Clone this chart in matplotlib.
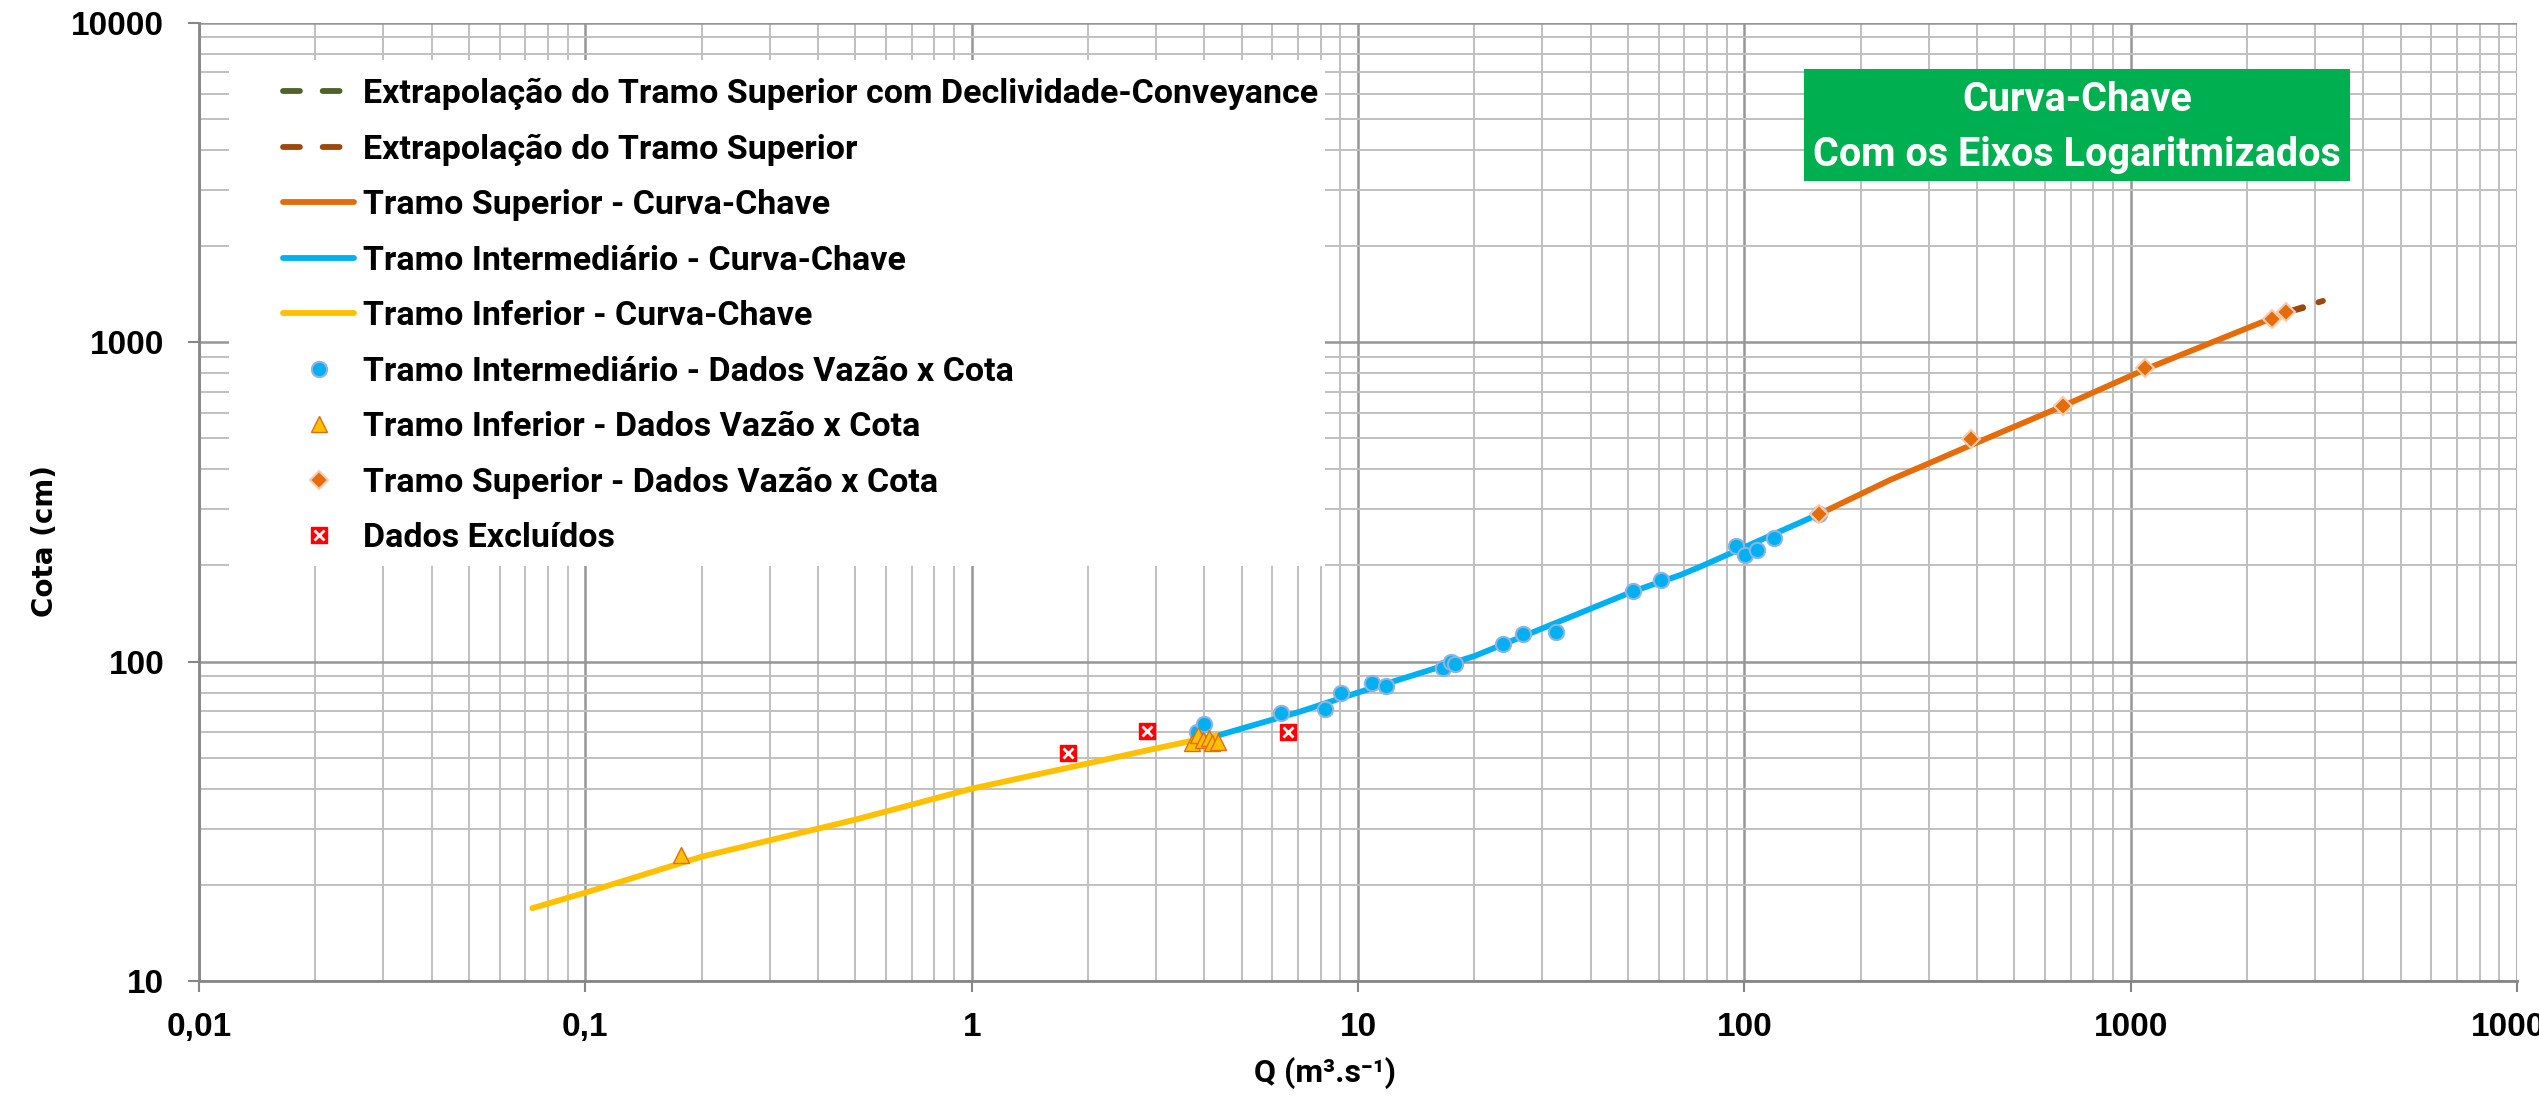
import matplotlib
matplotlib.use("Agg")
import matplotlib.pyplot as plt
from matplotlib.lines import Line2D
from matplotlib.patches import Rectangle
from matplotlib.ticker import FixedLocator, FixedFormatter, LogLocator, NullFormatter

# curva-chave: tramos (Q em m3/s, cota em cm)
q_inf_curva = [0.0729, 0.1, 0.2, 0.5, 1.0, 2.0, 2.9, 4.4]
h_inf_curva = [16.9, 18.9, 24.5, 32.0, 40.0, 48.0, 53.0, 59.0]

q_int_curva = [4.4, 7.08, 10, 20, 30, 51.6, 68.2, 76.8, 100, 155.6]
h_int_curva = [59.0, 69.7, 80, 104, 127, 166, 186.5, 198, 228, 289]

q_sup_curva = [155.6, 238, 300, 386, 670, 1086, 1343, 2526]
h_sup_curva = [289, 370, 417, 476, 632, 820, 910, 1239]

# extrapolacoes
q_extrap = [2526, 3145]
h_extrap = [1239, 1346]
q_extrap_dc = [2526, 2858]
h_extrap_dc = [1239, 1288]

# dados medidos
q_int_dados = [3.83, 4.00, 6.31, 8.22, 9.03, 10.9, 11.8, 16.6, 17.4, 17.8, 23.8, 26.8,
               32.6, 51.6, 60.9, 95.2, 100.1, 107.8, 119.0, 155.6]
h_int_dados = [60.3, 63.6, 68.9, 70.8, 79.8, 85.9, 83.8, 95.6, 99.9, 98.2, 113.5, 122.3,
               123.5, 166.4, 179.8, 230.3, 215.4, 223.3, 244.0, 289]

q_inf_dados = [0.177, 3.71, 3.86, 3.98, 4.12, 4.18, 4.35]
h_inf_dados = [24.8, 55.5, 58.9, 56.8, 57.5, 55.5, 56.1]

q_sup_dados = [155.6, 386, 670, 1086, 2320, 2526]
h_sup_dados = [289, 496, 630, 827, 1178, 1239]

q_excluidos = [1.78, 2.85, 6.57]
h_excluidos = [51.6, 60.6, 60.3]

x_ticks = [0.01, 0.1, 1, 10, 100, 1000, 10000]
x_tick_labels = ["0,01", "0,1", "1", "10", "100", "1000", "10000"]
y_ticks = [10, 100, 1000, 10000]
y_tick_labels = ["10", "100", "1000", "10000"]

NARROW = ["Roboto", "DejaVu Sans"]

plt.rcParams["font.family"] = ["Liberation Sans", "DejaVu Sans"]
plt.rcParams["font.weight"] = "bold"

W, H = 2539, 1099
fig = plt.figure(figsize=(W / 100, H / 100), dpi=100)
ax = fig.add_axes([199 / W, 1 - 981 / H, 2318 / W, 958.3 / H])
ax.set_xscale("log")
ax.set_yscale("log")
ax.set_xlim(0.01, 10000)
ax.set_ylim(10, 10000)
ax.set_axisbelow(True)

ax.xaxis.set_major_locator(FixedLocator(x_ticks))
ax.xaxis.set_major_formatter(FixedFormatter(x_tick_labels))
ax.yaxis.set_major_locator(FixedLocator(y_ticks))
ax.yaxis.set_major_formatter(FixedFormatter(y_tick_labels))
for axis in (ax.xaxis, ax.yaxis):
    axis.set_minor_locator(LogLocator(base=10, subs=range(2, 10), numticks=30))
    axis.set_minor_formatter(NullFormatter())

ax.grid(which="major", color="#969696", lw=1.8)
ax.grid(which="minor", color="#C0C0C0", lw=1.4)
ax.tick_params(which="major", length=8, width=1.5, color="#868686", labelsize=24)
ax.tick_params(axis="x", which="major", pad=14)
ax.tick_params(axis="y", which="major", pad=17)
ax.tick_params(which="minor", length=0)
for side in ("top", "right"):
    ax.spines[side].set_visible(False)
for side in ("left", "bottom"):
    ax.spines[side].set_color("#868686")
    ax.spines[side].set_linewidth(2)

# curvas
lw = 4.2
h_inf_c, = ax.plot(q_inf_curva, h_inf_curva, color="#FFC000", lw=lw,
                   solid_capstyle="round", zorder=3)
h_int_c, = ax.plot(q_int_curva, h_int_curva, color="#00B0F0", lw=lw,
                   solid_capstyle="round", zorder=3)
h_sup_c, = ax.plot(q_sup_curva, h_sup_curva, color="#E46C0A", lw=lw,
                   solid_capstyle="round", zorder=3)
ax.plot(q_extrap_dc, h_extrap_dc, color="#4F6228", lw=lw,
        dashes=(3.0, 2.8), dash_capstyle="round", zorder=3)
ax.plot(q_extrap, h_extrap, color="#9E480E", lw=lw,
        dashes=(3.0, 2.8), dash_capstyle="round", zorder=3)

# proxies da legenda para as linhas tracejadas ("- -")
h_dc = Line2D([], [], color="#4F6228", lw=lw, dashes=(2.9, 3.9), dash_capstyle="round")
h_ext = Line2D([], [], color="#9E480E", lw=lw, dashes=(2.9, 3.9), dash_capstyle="round")

# pontos
h_int_p, = ax.plot(q_int_dados, h_int_dados, "o", ms=11, mfc="#00B0F0",
                   mec="#8DB4E2", mew=1.5, zorder=4)
h_inf_p, = ax.plot(q_inf_dados, h_inf_dados, "^", ms=11, mfc="#FFC000",
                   mec="#E46C0A", mew=1, zorder=4)
h_sup_p, = ax.plot(q_sup_dados, h_sup_dados, "D", ms=9, mfc="#E46C0A",
                   mec="#F8CBAD", mew=1.5, zorder=5)
h_exc_s, = ax.plot(q_excluidos, h_excluidos, "s", ms=11, mfc="#FF0000",
                   mec="#FF0000", mew=1, zorder=4)
h_exc_x, = ax.plot(q_excluidos, h_excluidos, "x", ms=7, mec="white",
                   mew=2, zorder=5)

# fundo da legenda
fig.patches.append(Rectangle((229 / W, 1 - 566 / H), 1096 / W, 506 / H,
                             transform=fig.transFigure, facecolor="white",
                             edgecolor="none", zorder=1))

handles = [h_dc, h_ext, h_sup_c, h_int_c, h_inf_c, h_int_p, h_inf_p, h_sup_p,
           (h_exc_s, h_exc_x)]
labels = ["Extrapolação do Tramo Superior com Declividade-Conveyance",
          "Extrapolação do Tramo Superior",
          "Tramo Superior - Curva-Chave",
          "Tramo Intermediário - Curva-Chave",
          "Tramo Inferior - Curva-Chave",
          "Tramo Intermediário - Dados Vazão x Cota",
          "Tramo Inferior - Dados Vazão x Cota",
          "Tramo Superior - Dados Vazão x Cota",
          "Dados Excluídos"]
leg = fig.legend(handles, labels, loc="upper left",
                 bbox_to_anchor=(283 / W, 1 - 78 / H), bbox_transform=fig.transFigure,
                 frameon=False, borderpad=0, borderaxespad=0, numpoints=1,
                 prop=dict(family=NARROW, weight="bold", size=24.5),
                 handlelength=2.1, handletextpad=0.25, labelspacing=0.69)
leg.set_zorder(6)

# caixa do titulo
fig.patches.append(Rectangle((1804 / W, 1 - 181 / H), 546 / W, 112 / H,
                             transform=fig.transFigure, facecolor="#00B050",
                             edgecolor="none", zorder=2))
cx = (1804 + 2350) / 2 / W
fig.text(cx, 1 - 100 / H, "Curva-Chave", color="white", fontsize=28.5,
         family=NARROW, weight="bold", ha="center", va="center", zorder=7)
fig.text(cx, 1 - 155 / H, "Com os Eixos Logaritmizados", color="white", fontsize=28.5,
         family=NARROW, weight="bold", ha="center", va="center", zorder=7)

# rotulos dos eixos
fig.text(1325 / W, 1 - 1073 / H, "Q (m³.s⁻¹)", fontsize=23, family=NARROW,
         weight="bold", ha="center", va="center")
fig.text(45 / W, 1 - 541 / H, "Cota (cm)", fontsize=20, family="DejaVu Sans",
         weight="bold", rotation=90, ha="center", va="center")

fig.savefig("out.png", dpi=100)
